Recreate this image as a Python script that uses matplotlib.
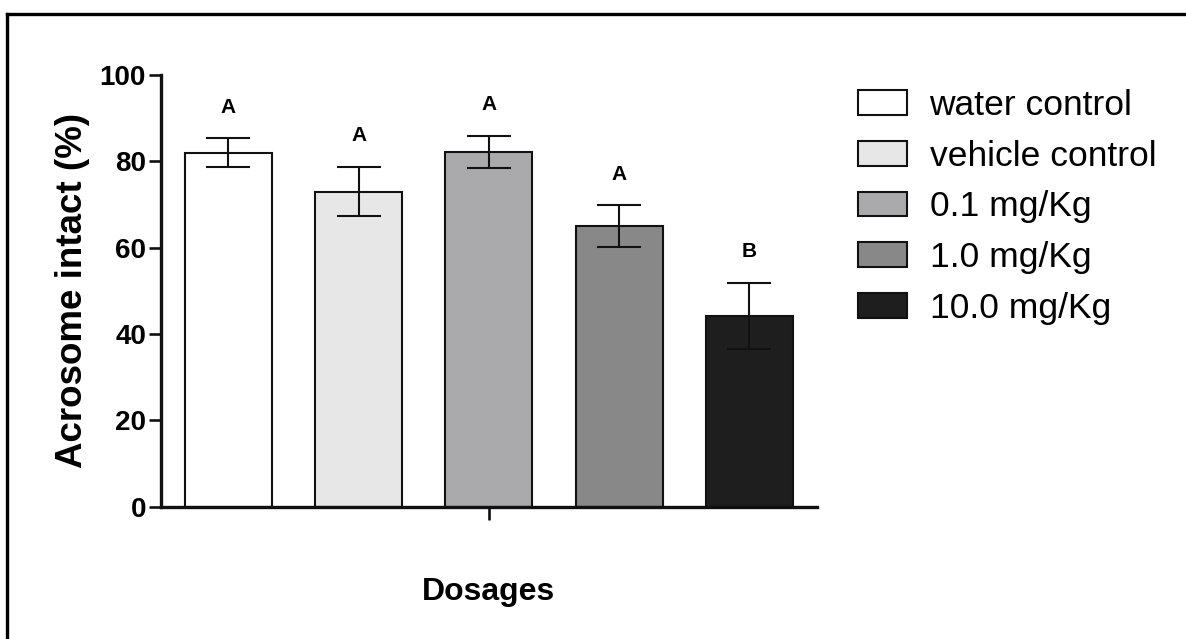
import numpy as np
import matplotlib
matplotlib.use("Agg")
import matplotlib.pyplot as plt
from matplotlib.lines import Line2D

plt.rcParams["font.family"] = ["Liberation Sans", "DejaVu Sans"]

# ── data ────────────────────────────────────────────────────────────────────
GROUPS  = ["water control", "vehicle control", "0.1 mg/Kg", "1.0 mg/Kg", "10.0 mg/Kg"]
MEANS   = [82.0, 73.0, 82.2, 65.0, 44.2]
SEMS    = [3.3, 5.7, 3.7, 4.85, 7.6]
LETTERS = ["A", "A", "A", "A", "B"]
COLORS  = ["#ffffff", "#e8e7e8", "#aaaaac", "#878887", "#1e1e1e"]
YTICKS  = [0, 20, 40, 60, 80, 100]

W, H = 1186, 639
AX_L, AX_R, AX_T, AX_B = 160.7, 817.0, 75.0, 506.7   # axes box in pixels
fig = plt.figure(figsize=(W / 100, H / 100), dpi=100)
ax = fig.add_axes([AX_L / W, 1 - AX_B / H, (AX_R - AX_L) / W, (AX_B - AX_T) / H])

x = np.arange(len(GROUPS))
bars = ax.bar(x, MEANS, width=0.668, color=COLORS, edgecolor="#111111",
              linewidth=1.5, zorder=2)
ax.errorbar(x, MEANS, yerr=SEMS, fmt="none", ecolor="#111111",
            elinewidth=1.5, capsize=16, capthick=1.5, zorder=3)

# significance letters sit a little above the error bar caps
for xi, m, s, lt in zip(x, MEANS, SEMS, LETTERS):
    ax.text(xi, m + s + 5, lt, ha="center", va="bottom",
            fontsize=15, fontweight="bold")

ax.set_xlim(-0.52, 4.52)
ax.set_ylim(0, 100)
ax.set_yticks(YTICKS)
ax.set_xticks([2])
ax.set_xticklabels([""])

for side in ("top", "right"):
    ax.spines[side].set_visible(False)
for side in ("left", "bottom"):
    ax.spines[side].set_linewidth(2.4)
    ax.spines[side].set_color("#111111")

ax.tick_params(axis="y", length=9, width=1.9, pad=1.5, labelsize=20, color="#111111")
ax.tick_params(axis="x", length=9, width=1.9, color="#111111")
for lbl in ax.get_yticklabels():
    lbl.set_fontweight("bold")

ax.set_ylabel("Acrosome intact (%)", fontsize=26.5, fontweight="bold")
ax.yaxis.label.set_va("center")
ax.yaxis.set_label_coords((73 - AX_L) / (AX_R - AX_L), 0.5)
ax.set_xlabel("Dosages", fontsize=23, fontweight="bold")
ax.xaxis.label.set_va("center")
ax.xaxis.set_label_coords(0.5, -(592 - AX_B) / (AX_B - AX_T))

# ── legend ──────────────────────────────────────────────────────────────────
leg = ax.legend(bars, GROUPS, loc="upper left",
                bbox_to_anchor=(858 / W, 1 - 89 / H), bbox_transform=fig.transFigure,
                frameon=False, fontsize=25.5, borderpad=0, borderaxespad=0,
                handlelength=1.38, handleheight=0.7, handletextpad=0.64,
                labelspacing=0.5)
for p in leg.get_patches():
    p.set_linewidth(1.5)

# ── outer frame (only top and left edges show) ─────────────────────────────
fig.add_artist(Line2D([6.5 / W, 1], [1 - 13.5 / H, 1 - 13.5 / H],
                      transform=fig.transFigure, color="black", linewidth=2.4))
fig.add_artist(Line2D([6.5 / W, 6.5 / W], [0, 1 - 13.5 / H],
                      transform=fig.transFigure, color="black", linewidth=2.4))

fig.savefig("out.png", dpi=100)
